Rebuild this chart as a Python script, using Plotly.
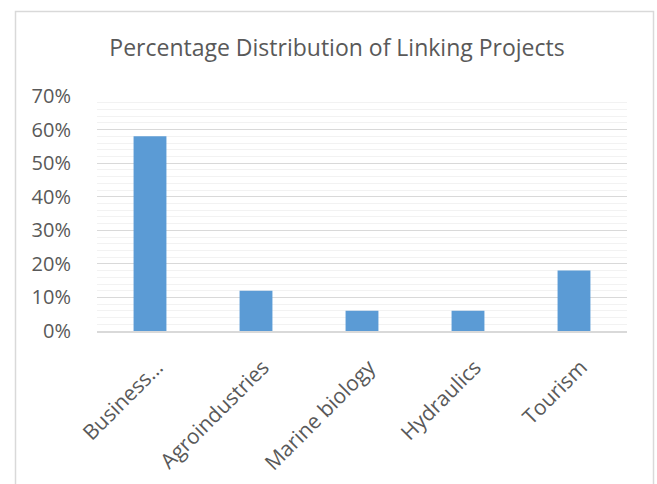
import plotly.graph_objects as go

categories = ["Business…", "Agroindustries", "Marine biology", "Hydraulics", "Tourism"]
values = [0.58, 0.12, 0.06, 0.06, 0.18]
y_ticks = [0, 0.1, 0.2, 0.3, 0.4, 0.5, 0.6, 0.7]
y_labels = ["0%", "10%", "20%", "30%", "40%", "50%", "60%", "70%"]

W, H = 657, 484
L, R, T, B = 97, 30, 96, 153
pw, ph = W - L - R, H - T - B

fig = go.Figure(go.Bar(x=categories, y=values, marker_color="#5B9BD5",
                       marker_line_width=0, width=0.31))

font = "Open Sans"
fig.update_layout(
    width=W, height=H,
    margin=dict(l=L, r=R, t=T, b=B),
    paper_bgcolor="white", plot_bgcolor="white",
    showlegend=False,
    title=dict(text="Percentage Distribution of Linking Projects",
               x=(337 - L) / pw, xref="paper", xanchor="center",
               y=1 - 48 / H, yanchor="middle",
               font=dict(family=font, size=23, color="#595959")),
    bargap=0.69,
)
fig.update_yaxes(
    range=[0, 0.7], tickvals=y_ticks, ticktext=y_labels,
    showgrid=True, gridcolor="#D9D9D9", gridwidth=1,
    minor=dict(dtick=0.02, showgrid=True, gridcolor="#F2F2F2", gridwidth=1),
    zeroline=False, showline=False, automargin=False,
    ticks="outside", ticklen=21, tickcolor="rgba(0,0,0,0)",
    tickfont=dict(family=font, size=20, color="#595959"),
)
fig.update_xaxes(
    showline=True, linecolor="#D9D9D9", linewidth=1.5, automargin=False,
    tickangle=-45, ticks="outside", ticklen=14, tickcolor="rgba(0,0,0,0)",
    ticklabelshift=7,
    tickfont=dict(family=font, size=21, color="#595959"),
)
# chart area border
x0 = (15.5 - L) / pw
x1 = (653.5 - L) / pw
y1 = (H - B - 11.5) / ph
y0 = (H - B - 495) / ph
fig.add_shape(type="rect", xref="paper", yref="paper", x0=x0, x1=x1, y0=y0, y1=y1,
              line=dict(color="#D9D9D9", width=1.5), fillcolor="rgba(0,0,0,0)", layer="below")

fig.write_html("out.html", config={"displayModeBar": False},
               post_script="document.body.style.margin='0';")
